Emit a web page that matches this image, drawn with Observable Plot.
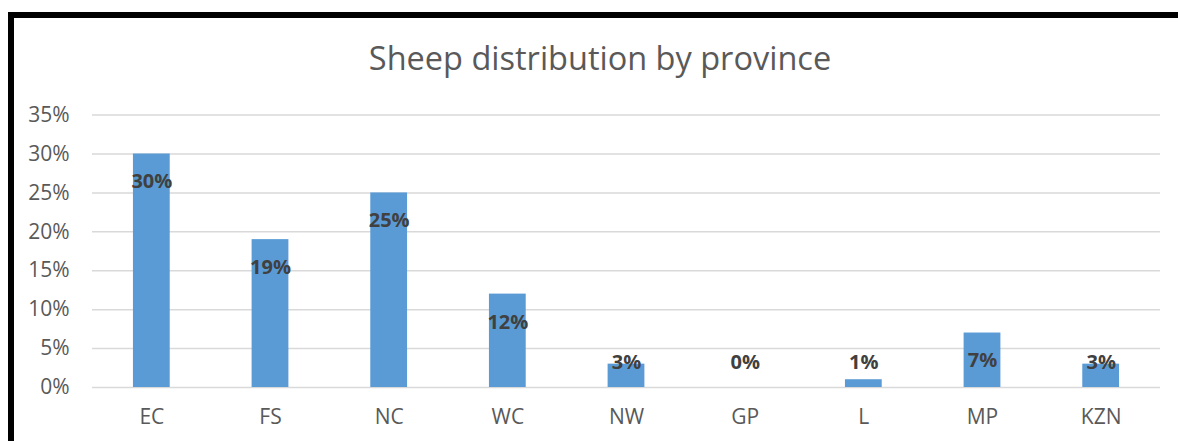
<!DOCTYPE html>
<html>
<head>
<meta charset="utf-8">
<script src="https://cdn.jsdelivr.net/npm/d3@7"></script>
<script src="https://cdn.jsdelivr.net/npm/@observablehq/plot@0.6"></script>
<style>
  html, body { margin: 0; padding: 0; background: #fff; }
  #wrap { position: relative; width: 1178px; height: 441px; overflow: hidden; font-family: "Open Sans", sans-serif; }
  #frame { position: absolute; left: 8px; top: 12px; width: 1300px; height: 500px; border-left: 6px solid #000; border-top: 6px solid #000; box-sizing: border-box; pointer-events: none; }
  #title { position: absolute; left: 0; width: 1200px; top: 35px; text-align: center; font-size: 32.5px; color: #595959; line-height: 46px; }
  #chart { position: absolute; left: 0; top: 0; }
</style>
</head>
<body>
<div id="wrap">
  <div id="chart"></div>
  <div id="title">Sheep distribution by province</div>
  <div id="frame"></div>
</div>
<script>
const provinces = ["EC", "FS", "NC", "WC", "NW", "GP", "L", "MP", "KZN"];
const shares = [30, 19, 25, 12, 3, 0, 1, 7, 3];
const yTicks = [0, 5, 10, 15, 20, 25, 30, 35];

const data = provinces.map((p, i) => ({province: p, value: shares[i]}));

const chart = Plot.plot({
  width: 1178,
  height: 441,
  marginLeft: 92,
  marginRight: 18,
  marginTop: 114.6,
  marginBottom: 54,
  style: {fontFamily: "Open Sans, sans-serif", background: "transparent"},
  x: {domain: provinces, paddingInner: 0.69, paddingOuter: 0.345, round: false, label: null},
  y: {domain: [0, 35], label: null},
  marks: [
    Plot.gridY(yTicks, {stroke: "#d9d9d9", strokeOpacity: 1, strokeWidth: 1.5}),
    Plot.barY(data, {x: "province", y: "value", fill: "#5b9bd5"}),
    Plot.text(data, {
      x: "province",
      y: d => Math.max(d.value, 6.8),
      dy: 28,
      text: d => d.value + "%",
      fontWeight: "bold",
      fontSize: 20,
      fill: "#404040"
    }),
    Plot.axisY(yTicks, {tickSize: 0, tickPadding: 23, tickFormat: d => d + "%", fontSize: 21, fill: "#595959", label: null}),
    Plot.axisX({tickSize: 0, tickPadding: 22, fontSize: 21, fill: "#595959", label: null})
  ]
});
document.getElementById("chart").appendChild(chart);
</script>
</body>
</html>
